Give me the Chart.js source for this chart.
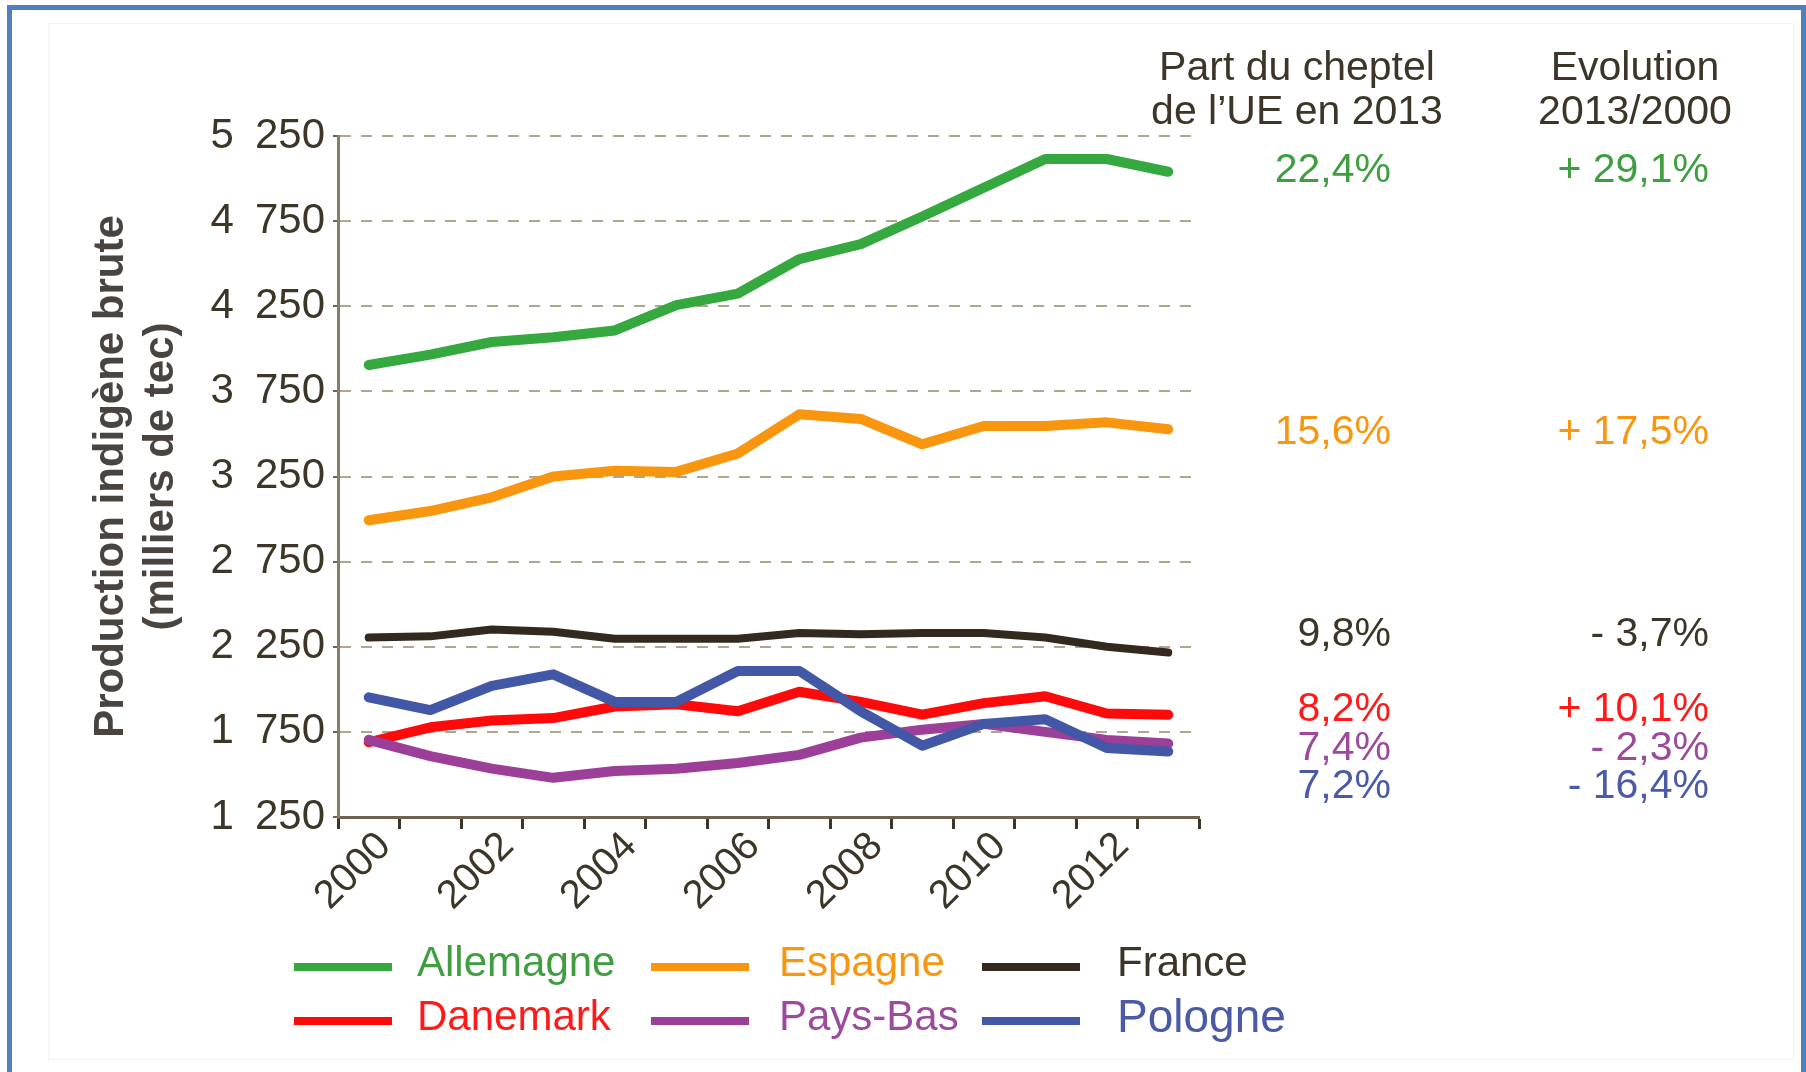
<!DOCTYPE html>
<html lang="fr">
<head>
<meta charset="utf-8">
<title>Production indigène brute</title>
<script src="https://cdn.jsdelivr.net/npm/chart.js@4.4.1/dist/chart.umd.min.js"></script>
<style>
body{margin:0;background:#fff;font-family:"Liberation Sans",Arial,sans-serif;}
#page{position:relative;width:1806px;height:1072px;overflow:hidden;background:#fff;}
#frame{position:absolute;left:7px;top:5px;width:1789px;height:1200px;border:5px solid #4f81bd;}
#inner{position:absolute;left:48px;top:23px;width:1744px;height:1035px;border:1px solid #f3f3f3;}
#chart{position:absolute;left:0;top:0;}
.txt{position:absolute;font-size:41px;line-height:1;white-space:nowrap;transform:translateY(-50%);}
.head{position:absolute;font-size:41px;line-height:44px;color:#3d3528;text-align:center;width:400px;}
.swatch{position:absolute;height:8px;width:98px;}
</style>
</head>
<body>
<div id="page">
<div id="frame"></div>
<div id="inner"></div>
<canvas id="chart" width="1806" height="1072"></canvas>
<div class="head" style="left:1097px;top:44px;">Part du cheptel<br>de l’UE en 2013</div>
<div class="head" style="left:1435px;top:44px;">Evolution<br>2013/2000</div>
<div id="notes"></div>
<div id="legend"></div>
</div>

<script>
// ===== données (milliers de tec) =====
const years = ["2000","2001","2002","2003","2004","2005","2006","2007","2008","2009","2010","2011","2012","2013"];

const countries = ["Allemagne","Espagne","France","Danemark","Pays-Bas","Pologne"];

const allemagne = [3905,3966,4040,4068,4108,4257,4324,4527,4615,4777,4946,5115,5115,5040];
const espagne   = [2993,3047,3128,3250,3284,3277,3385,3615,3588,3439,3547,3547,3568,3527];
const france    = [2304,2311,2351,2338,2297,2297,2297,2331,2324,2331,2331,2304,2250,2216];
const danemark  = [1689,1777,1817,1831,1899,1912,1871,1986,1926,1851,1919,1959,1858,1851];
const paysBas   = [1703,1608,1534,1480,1520,1534,1567,1615,1716,1763,1797,1750,1703,1682];
const pologne   = [1953,1878,2020,2088,1926,1926,2108,2108,1871,1669,1797,1824,1655,1635];

const partUE    = ["22,4%","15,6%","9,8%","8,2%","7,4%","7,2%"];
const evolution = ["+ 29,1%","+ 17,5%","- 3,7%","+ 10,1%","- 2,3%","- 16,4%"];

const yMin = 1250, yMax = 5250, yStep = 500;

// ===== couleurs =====
const lineColors = ["#35a83f","#f8960f","#33291f","#ff0a0a","#9b3f98","#4258a6"];
const textColors = ["#3f9e3f","#f8960f","#3d3528","#ff1a1a","#9c4b9c","#4a5aa6"];

const series = [allemagne, espagne, france, danemark, paysBas, pologne];

// ===== graphique =====
let datasets = series.map((values, i) => ({
  label: countries[i],
  data: values,
  borderColor: lineColors[i],
  backgroundColor: lineColors[i],
  borderWidth: i === 2 ? 8 : 10,
  borderJoinStyle: "round",
  borderCapStyle: "round",
  pointRadius: 0,
  tension: 0,
  order: 5 - i
}));

const txtColor = "#3d3528";

new Chart(document.getElementById("chart"), {
  type: "line",
  data: { labels: years, datasets: datasets },
  options: {
    responsive: false,
    devicePixelRatio: 1,
    animation: false,
    layout: { padding: { left: 0, top: 136, right: 607, bottom: 155 } },
    plugins: { legend: { display: false }, tooltip: { enabled: false } },
    scales: {
      x: {
        offset: true,
        afterFit: s => { s.height = 100; },
        grid: { display: true, offset: true, drawOnChartArea: false, tickLength: 12, tickColor: "#3d3528", tickWidth: 3 },
        border: { display: true, color: "#6e6350", width: 3 },
        ticks: {
          autoSkip: false, minRotation: 45, maxRotation: 45, padding: -6, labelOffset: 16,
          color: txtColor,
          font: { family: "Liberation Sans", size: 40 },
          callback: (v, i) => i % 2 === 0 ? years[i] : ""
        }
      },
      y: {
        min: yMin, max: yMax,
        afterFit: s => { s.width = 338; },
        afterBuildTicks: s => {
          s.ticks = [];
          for (let v = yMin; v <= yMax; v += yStep) s.ticks.push({ value: v });
        },
        grid: { color: "#aea68e", lineWidth: 2, tickLength: 5, tickColor: "#6e6350", tickWidth: 2 },
        border: { display: true, color: "#8a7d66", width: 3, dash: [11, 10] },
        ticks: {
          padding: 8,
          color: txtColor,
          font: { family: "Liberation Sans", size: 42 },
          // espace des milliers un peu large, comme l'original
          callback: v => String(v).replace(/\B(?=(\d{3})+(?!\d))/g, "\u2002")
        },
        title: {
          display: true,
          text: ["Production indigène brute", "(milliers de tec)"],
          color: "#4a4440",
          font: { family: "Liberation Sans", size: 42, weight: "bold", lineHeight: 1.2 },
          padding: { top: 86, bottom: 0 }
        }
      }
    }
  }
});

// ===== pourcentages à droite =====
const noteY = [168, 430, 632, 707, 746, 784];
let html = "";
countries.forEach((c, i) => {
  html += `<div class="txt" style="right:${1806-1391}px;top:${noteY[i]}px;color:${textColors[i]}">${partUE[i]}</div>`;
  html += `<div class="txt" style="right:${1806-1709}px;top:${noteY[i]}px;color:${textColors[i]}">${evolution[i]}</div>`;
});
document.getElementById("notes").innerHTML = html;

// ===== légende =====
const legX = [294, 651, 982];
const legTextX = [417, 779, 1117];
const legY = [962, 1016];
const legSize = [42, 42, 42, 42, 42, 46];
let leg = "";
countries.forEach((c, i) => {
  let col = i % 3, row = Math.floor(i / 3);
  leg += `<div class="swatch" style="left:${legX[col]}px;top:${legY[row]+1}px;background:${lineColors[i]}"></div>`;
  leg += `<div class="txt" style="left:${legTextX[col]}px;top:${legY[row]}px;font-size:${legSize[i]}px;color:${textColors[i]}">${c}</div>`;
});
document.getElementById("legend").innerHTML = leg;
</script>
</body>
</html>
